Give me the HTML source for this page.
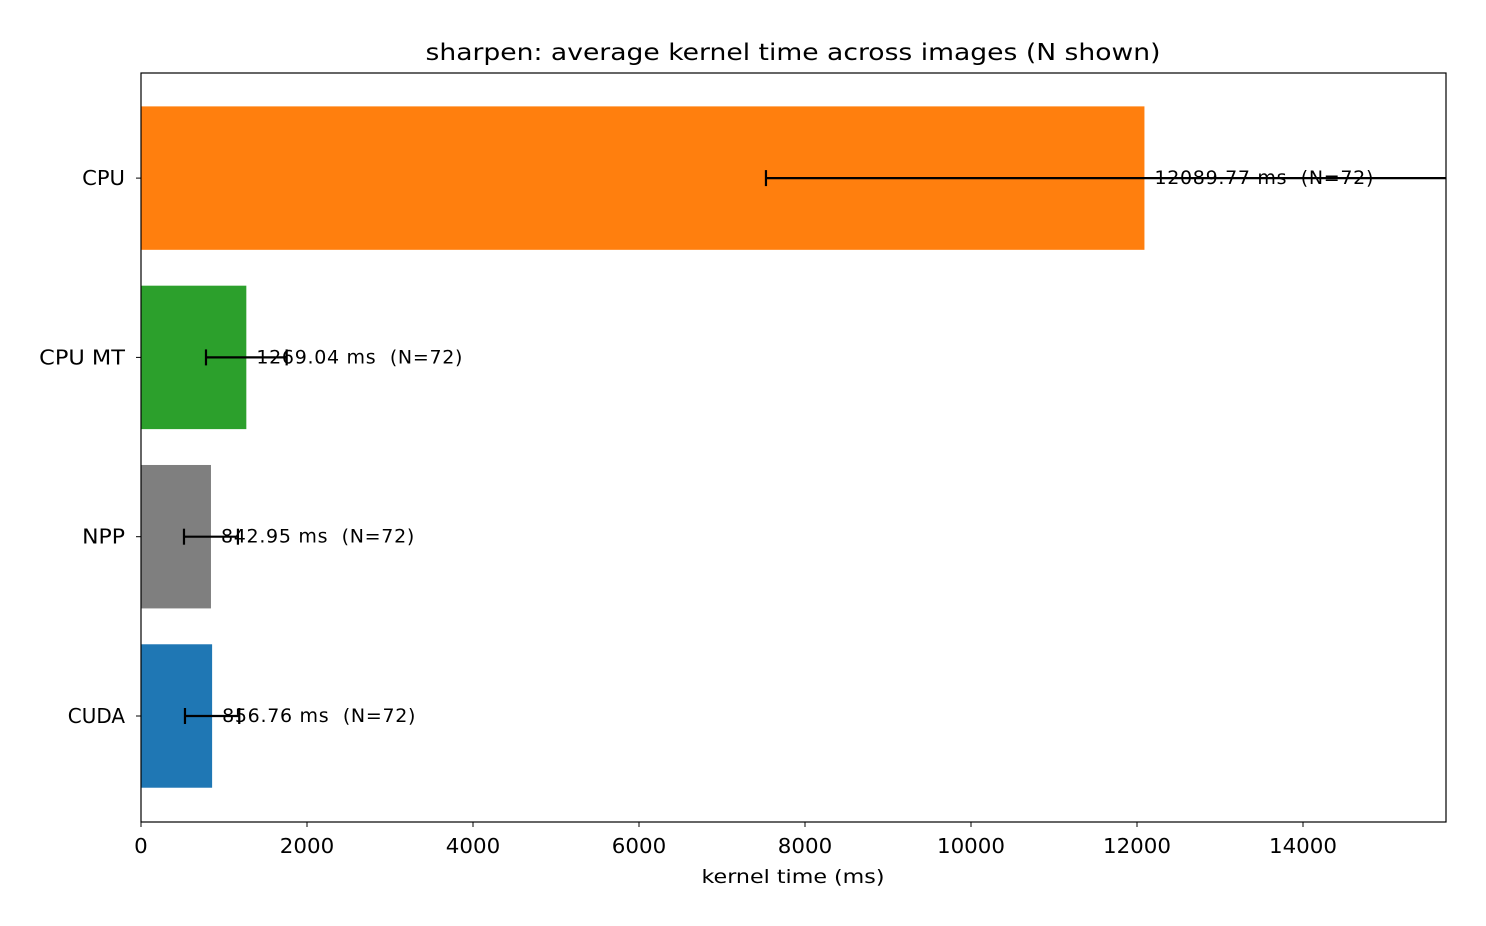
<!DOCTYPE html>
<html><head><meta charset="utf-8"><style>
body{margin:0;background:#fff;}
svg{display:block;font-family:"DejaVu Sans","Liberation Sans",sans-serif;}
</style></head><body>
<svg id="chart" width="1486" height="926">
<text x="793" y="60" text-anchor="middle" font-size="23" textLength="735" lengthAdjust="spacingAndGlyphs">sharpen: average kernel time across images (N shown)</text>
<text x="793" y="883" text-anchor="middle" font-size="19" textLength="183" lengthAdjust="spacingAndGlyphs">kernel time (ms)</text>
<g id="plot"></g>
</svg>
<script>
const categories=["CUDA","NPP","CPU MT","CPU"];
const means=[856.76,842.95,1269.04,12089.77];
const errs=[327,325,486,4560];
const counts=[72,72,72,72];
const colors=["#1f77b4","#7f7f7f","#2ca02c","#ff7f0e"];
const xTicks=[0,2000,4000,6000,8000,10000,12000,14000];
const L=141,R=1446,T=73,B=822,XMAX=15723;
const sx=v=>L+v/XMAX*(R-L);
const step=179.3;
const sy=i=>716-step*i;
const NS="http://www.w3.org/2000/svg";
const g=document.getElementById('plot');
function mk(t,a){const e=document.createElementNS(NS,t);for(const k in a)e.setAttribute(k,a[k]);g.appendChild(e);return e;}
const clip=document.createElementNS(NS,'clipPath');clip.setAttribute('id','c');
const cr=document.createElementNS(NS,'rect');cr.setAttribute('x',L);cr.setAttribute('y',T);cr.setAttribute('width',R-L);cr.setAttribute('height',B-T);clip.appendChild(cr);g.appendChild(clip);
categories.forEach((c,i)=>{
 const y=sy(i),h=step*0.8;
 const b=mk('rect',{x:L,y:y-h/2,width:sx(means[i])-L,height:h,fill:colors[i]});
 
 
 const x1=sx(means[i]-errs[i]),x2=sx(means[i]+errs[i]);
 const eg=document.createElementNS(NS,'g');eg.setAttribute('clip-path','url(#c)');g.appendChild(eg);
 
 
 [[x1,y,x2,y],[x1,y-8,x1,y+8],[x2,y-8,x2,y+8]].forEach(p=>{const l=document.createElementNS(NS,'line');l.setAttribute('x1',p[0]);l.setAttribute('y1',p[1]);l.setAttribute('x2',p[2]);l.setAttribute('y2',p[3]);l.setAttribute('stroke','#000');l.setAttribute('stroke-width','2.2');eg.appendChild(l);});
 const txt=means[i].toFixed(2)+' ms\u00a0\u00a0(N='+counts[i]+')';
 const t=mk('text',{x:sx(means[i])+10,y:y+6,'font-size':'19','letter-spacing':'0.7'});
 t.textContent=txt;
 
 
 mk('line',{x1:L-5,y1:y,x2:L,y2:y,stroke:'#000','stroke-width':1});
 const yl=mk('text',{x:L-16,y:y+7,'font-size':'20','text-anchor':'end',textLength:(c.length*14.3).toFixed(1),lengthAdjust:'spacingAndGlyphs'});
 yl.textContent=c;
 
 
});
xTicks.forEach(v=>{
 const x=sx(v);
 mk('line',{x1:x,y1:B,x2:x,y2:B+5,stroke:'#000','stroke-width':1});
 const s=String(v);
 const t=mk('text',{x:x,y:B+31,'font-size':'20','text-anchor':'middle',textLength:(s.length*13.6).toFixed(1),lengthAdjust:'spacingAndGlyphs'});
 t.textContent=s;
 
 
});
const f=mk('rect',{x:L,y:T,width:R-L,height:B-T,fill:'none',stroke:'#000','stroke-width':1.2});


</script>
</body></html>
